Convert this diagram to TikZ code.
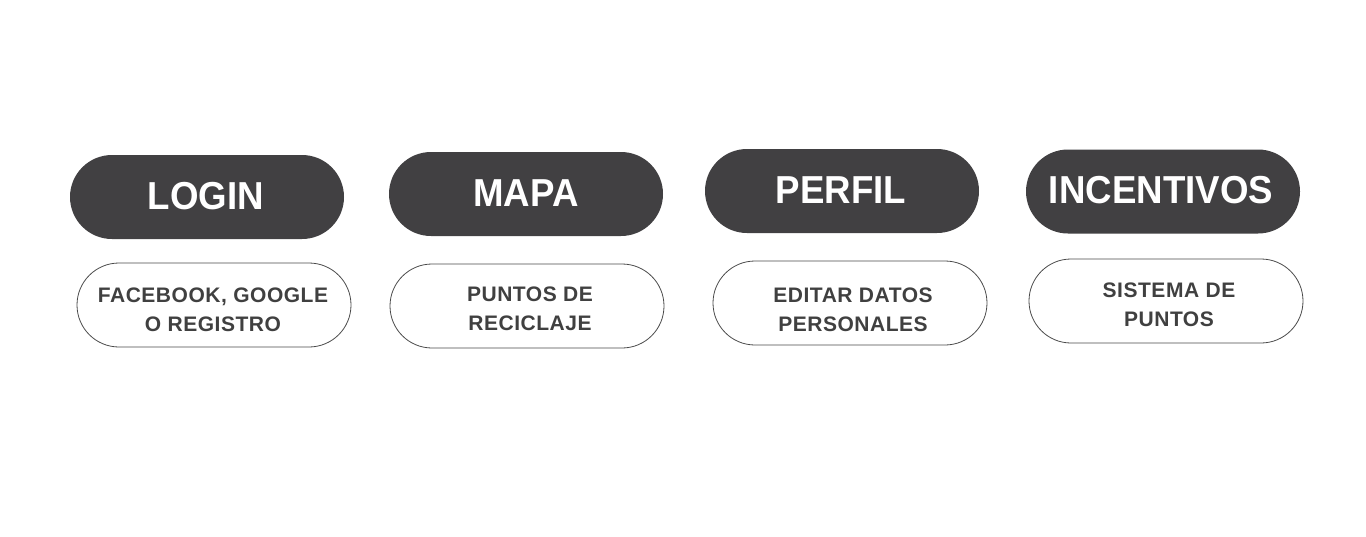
\documentclass[tikz,border=0pt]{standalone}
\usepackage{fontspec}
\setmainfont{Liberation Sans}
\newfontfamily\titlefont[FakeStretch=0.94]{Liberation Sans Bold}
\newfontfamily\subfont[LetterSpace=2.5]{Liberation Sans Bold}
\definecolor{pilldark}{HTML}{414042}
\definecolor{subtext}{HTML}{404040}
\definecolor{pillline}{HTML}{4A4A4A}
\tikzset{
  titlepill/.style={draw=none, fill=pilldark, rounded corners=42pt, minimum width=274pt, minimum height=84pt, inner sep=0pt},
  titletxt/.style={text=white, font=\titlefont\fontsize{39}{39}\selectfont, inner sep=0pt},
  subpill/.style={draw=pillline, line width=0.8pt, fill=white, rounded corners=42pt, minimum width=274pt, minimum height=84pt, inner sep=0pt},
  subtxt/.style={text=subtext, align=center, font=\subfont\fontsize{21}{29}\selectfont, inner sep=0pt}
}
\begin{document}
\begin{tikzpicture}[x=1pt,y=-1pt]
\useasboundingbox[fill=white] (0,0) rectangle (1366,536);
% title pills
\node[titlepill] (p1) at (207,197) {};
\node[titlepill] (p2) at (526,194) {};
\node[titlepill] (p3) at (842,191) {};
\node[titlepill] (p4) at (1163,191.5) {};
\node[titletxt] (t1) at (206,196) {LOGIN};
\node[titletxt] (t2) at (526,193) {MAPA};
\node[titletxt] (t3) at (841,190) {PERFIL};
\node[titletxt] (t4) at (1161,190) {INCENTIVOS};
% sub pills
\node[subpill] (s1) at (214,305) {};
\node[subpill] (s2) at (527,306) {};
\node[subpill] (s3) at (850,303) {};
\node[subpill] (s4) at (1166,301) {};
\node[subtxt] (u1) at (213,309.5) {FACEBOOK, GOOGLE\\O REGISTRO};
\node[subtxt] (u2) at (530,308.5) {PUNTOS DE\\RECICLAJE};
\node[subtxt] (u3) at (853,309.5) {EDITAR DATOS\\PERSONALES};
\node[subtxt] (u4) at (1169,304.5) {SISTEMA DE\\PUNTOS};
\end{tikzpicture}
\end{document}
